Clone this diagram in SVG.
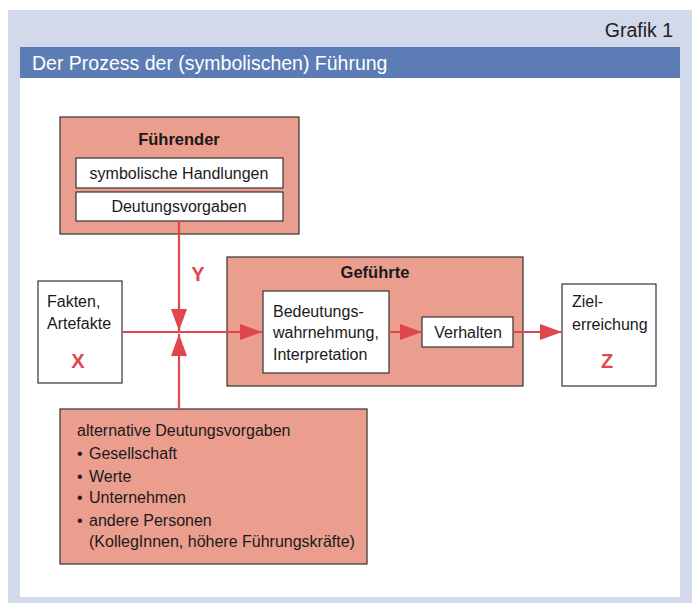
<svg xmlns="http://www.w3.org/2000/svg" width="692" height="603" viewBox="0 0 692 603">
<style>
text{font-family:"Liberation Sans","DejaVu Sans",sans-serif;fill:#1a1a1a;font-size:16px}
.b{font-weight:bold;font-size:16.5px}
.c{text-anchor:middle}
.red{fill:#e0474c;font-weight:bold;font-size:20px;text-anchor:middle}
.sal{fill:#eb9d8e;stroke:#333;stroke-width:1.2}
.wh{fill:#fff;stroke:#333;stroke-width:1.2}
.ln{stroke:#e0474c;stroke-width:2.2;fill:none}
</style>
<defs>
<marker id="ah" markerUnits="userSpaceOnUse" markerWidth="24" markerHeight="18" refX="22" refY="8" orient="auto">
<path d="M0,0 L22,8 L0,16 Z" fill="#e0474c"/>
</marker>
</defs>
<rect x="0" y="0" width="692" height="603" fill="#fff"/>
<rect x="8" y="10" width="684" height="593" fill="#d2d9ea"/>
<rect x="20" y="78" width="660" height="519" fill="#fff"/>
<rect x="20" y="47" width="660" height="31" fill="#5b7cb4"/>
<text x="673" y="37" text-anchor="end" style="font-size:19.5px;fill:#222">Grafik 1</text>
<text x="32" y="70" style="font-size:19.5px;fill:#fff">Der Prozess der (symbolischen) Führung</text>

<g id="fuehrender">
<rect class="sal" x="60" y="117" width="239" height="117"/>
<text class="b c" x="179" y="145">Führender</text>
<rect class="wh" x="76" y="158" width="207" height="30"/>
<text class="c" x="179" y="179">symbolische Handlungen</text>
<rect class="wh" x="76" y="192" width="207" height="29"/>
<text class="c" x="179" y="212">Deutungsvorgaben</text>
</g>

<g id="fakten">
<rect class="wh" x="38" y="281" width="84" height="102"/>
<text x="47" y="307">Fakten,</text>
<text x="47" y="329">Artefakte</text>
<text class="red" x="78" y="368">X</text>
</g>

<g id="gefuehrte">
<rect class="sal" x="227" y="257" width="296" height="129"/>
<text class="b c" x="375" y="278">Geführte</text>
</g>

<g id="bedeutung">
<rect class="wh" x="263" y="291" width="126" height="82"/>
<text x="273" y="317">Bedeutungs-</text>
<text x="273" y="338">wahrnehmung,</text>
<text x="273" y="360">Interpretation</text>
</g>

<g id="verhalten">
<rect class="wh" x="422" y="317" width="91" height="30"/>
<text class="c" x="468" y="338">Verhalten</text>
</g>

<g id="ziel">
<rect class="wh" x="562" y="284" width="94" height="102"/>
<text x="572" y="307">Ziel-</text>
<text x="572" y="330">erreichung</text>
<text class="red" x="607" y="368">Z</text>
</g>

<g id="alternativ">
<rect class="sal" x="60" y="409" width="307" height="155"/>
<text x="77" y="436">alternative Deutungsvorgaben</text>
<text x="77" y="459">•</text><text x="89" y="459">Gesellschaft</text>
<text x="77" y="482">•</text><text x="89" y="482">Werte</text>
<text x="77" y="503">•</text><text x="89" y="503">Unternehmen</text>
<text x="77" y="526">•</text><text x="89" y="526">andere Personen</text>
<text x="89" y="547">(KollegInnen, höhere Führungskräfte)</text>
</g>

<g id="connectors">
<line class="ln" x1="179" y1="221" x2="179" y2="331" marker-end="url(#ah)"/>
<line class="ln" x1="179" y1="409" x2="179" y2="334" marker-end="url(#ah)"/>
<line class="ln" x1="122" y1="332" x2="262" y2="332" marker-end="url(#ah)"/>
<line class="ln" x1="389" y1="332" x2="422" y2="332" marker-end="url(#ah)"/>
<line class="ln" x1="513" y1="332" x2="562" y2="332" marker-end="url(#ah)"/>
<text class="red" x="198" y="281">Y</text>
</g>
</svg>
